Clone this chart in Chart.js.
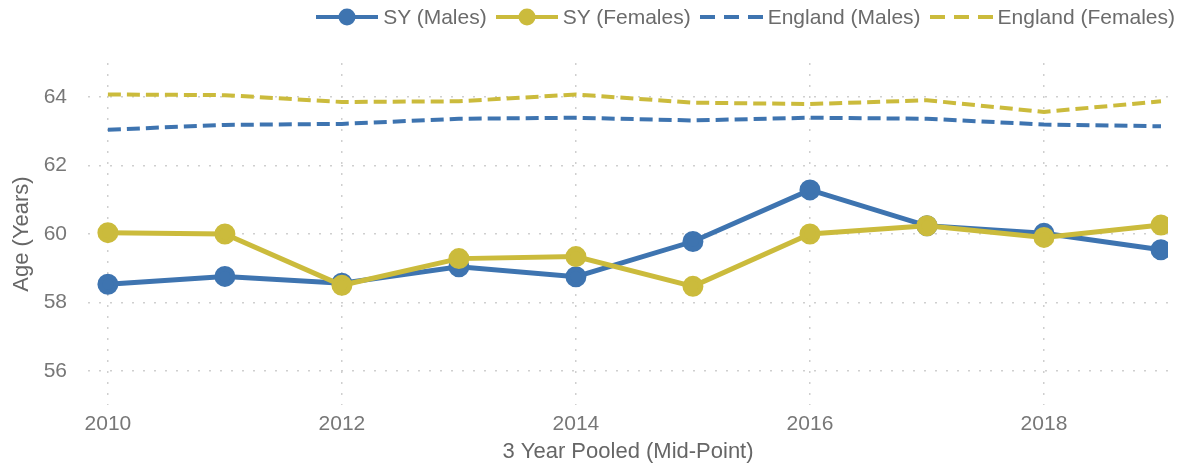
<!DOCTYPE html>
<html>
<head>
<meta charset="utf-8">
<script src="https://cdn.jsdelivr.net/npm/chart.js@4.4.1/dist/chart.umd.min.js"></script>
<style>
  html, body { margin: 0; padding: 0; background: #fff; }
  #wrap { position: relative; width: 1187px; height: 466px; }
  #legend {
    position: absolute; top: 5px; right: 12px; height: 24px;
    display: flex; align-items: center;
    font-family: "Liberation Sans", Arial, sans-serif; font-size: 21px; color: #6b6b6b;
  }
  .item { display: flex; align-items: center; margin-left: 9px; }
  .item svg { margin-right: 5px; }
</style>
</head>
<body>
<div id="wrap">
  <canvas id="chart" width="1187" height="466"></canvas>
  <div id="legend"></div>
</div>
<script>
const years = [2010, 2011, 2012, 2013, 2014, 2015, 2016, 2017, 2018, 2019];
const syMales = [58.53, 58.76, 58.56, 59.04, 58.75, 59.78, 61.29, 60.24, 60.02, 59.54];
const syFemales = [60.04, 60.0, 58.5, 59.28, 59.34, 58.47, 60.0, 60.24, 59.9, 60.26];
const engMales = [63.05, 63.19, 63.22, 63.37, 63.4, 63.32, 63.4, 63.37, 63.2, 63.15];
const engFemales = [64.08, 64.06, 63.86, 63.88, 64.08, 63.84, 63.8, 63.91, 63.57, 63.88];
const xTicks = [2010, 2012, 2014, 2016, 2018];
const yTicks = [56, 58, 60, 62, 64];

const BLUE = "#3e74b0";
const YELLOW = "#cbbb3c";
const FONT = "'Liberation Sans', Arial, sans-serif";

function pts(vals){ return vals.map((v, i) => ({ x: years[i], y: v })); }

const datasets = [
  { label: "SY (Males)", data: pts(syMales), borderColor: BLUE, backgroundColor: BLUE, order: 2,
    borderWidth: 5, pointRadius: 8, pointHoverRadius: 8, dashed: false },
  { label: "SY (Females)", data: pts(syFemales), borderColor: YELLOW, backgroundColor: YELLOW, order: 1,
    borderWidth: 5, pointRadius: 8, pointHoverRadius: 8, dashed: false },
  { label: "England (Males)", data: pts(engMales), borderColor: BLUE, backgroundColor: BLUE, order: 4,
    borderWidth: 4, borderDash: [13, 6], pointRadius: 0, dashed: true },
  { label: "England (Females)", data: pts(engFemales), borderColor: YELLOW, backgroundColor: YELLOW, order: 3,
    borderWidth: 4, borderDash: [13, 6], pointRadius: 0, dashed: true }
];

// legend (html + svg symbols)
const leg = document.getElementById("legend");
datasets.forEach(d => {
  const c = d.borderColor;
  const sym = d.dashed
    ? `<svg width="63" height="20"><line x1="0" y1="10" x2="63" y2="10" stroke="${c}" stroke-width="4" stroke-dasharray="15 9"/></svg>`
    : `<svg width="62" height="20"><line x1="0" y1="10" x2="62" y2="10" stroke="${c}" stroke-width="4"/><circle cx="31" cy="10" r="8.5" fill="${c}"/></svg>`;
  leg.insertAdjacentHTML("beforeend", `<div class="item">${sym}<span>${d.label}</span></div>`);
});

const gridStyle = { color: "#cfcfcf", lineWidth: 1.5, drawTicks: false };

new Chart(document.getElementById("chart"), {
  type: "line",
  data: { datasets },
  options: {
    responsive: false,
    animation: false,
    layout: { padding: { top: 63, right: 19, left: 0, bottom: 0 } },
    plugins: { legend: { display: false }, tooltip: { enabled: false } },
    elements: { line: { tension: 0 } },
    scales: {
      x: {
        type: "linear", min: 2009.83, max: 2019.06,
        afterBuildTicks: s => { s.ticks = xTicks.map(v => ({ value: v })); },
        afterFit: s => { s.height = 61; },
        grid: gridStyle,
        border: { display: false, dash: [2, 9] },
        ticks: { color: "#777", font: { family: FONT, size: 21 }, padding: 7, maxRotation: 0,
                 callback: v => String(v) },
        title: { display: true, text: "3 Year Pooled (Mid-Point)", color: "#666",
                 font: { family: FONT, size: 22 }, padding: { top: 1, bottom: 1 } }
      },
      y: {
        min: 55, max: 65,
        afterBuildTicks: s => { s.ticks = yTicks.map(v => ({ value: v })); },
        afterFit: s => { s.width = 88; },
        grid: gridStyle,
        border: { display: false, dash: [2, 9] },
        ticks: { color: "#777", font: { family: FONT, size: 21 }, padding: 21 },
        title: { display: true, text: "Age (Years)", color: "#666",
                 font: { family: FONT, size: 22 }, padding: { top: 9, bottom: 9 } }
      }
    }
  }
});
</script>
</body>
</html>
